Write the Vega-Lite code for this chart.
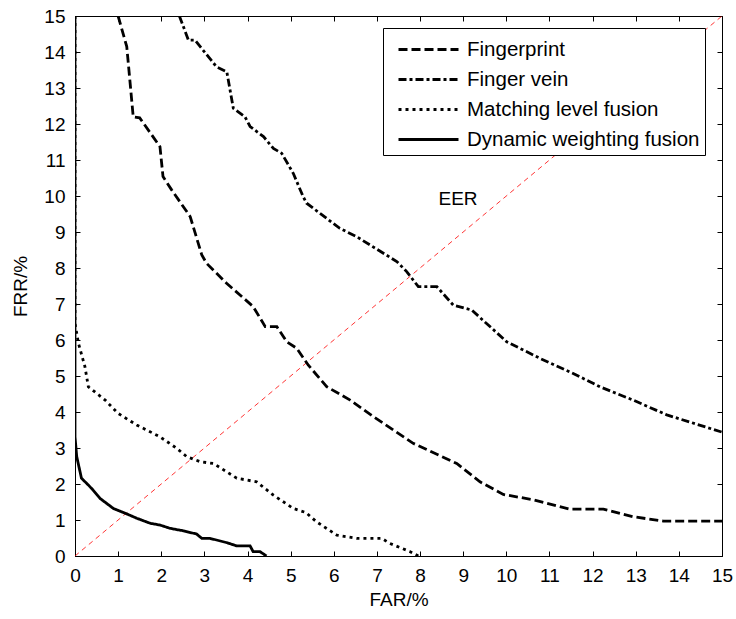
{
  "$schema": "https://vega.github.io/schema/vega-lite/v6.json",
  "width": 647,
  "height": 540,
  "autosize": {"type": "none"},
  "padding": {"left": 75, "top": 16, "right": 14, "bottom": 63},
  "background": "white",
  "config": {
    "font": "Liberation Sans",
    "view": {"stroke": "black", "strokeWidth": 1},
    "axis": {
      "grid": false,
      "domainColor": "black",
      "tickColor": "black",
      "labelColor": "black",
      "titleColor": "black",
      "labelFont": "Liberation Sans",
      "titleFont": "Liberation Sans",
      "labelFontSize": 19,
      "titleFontSize": 19,
      "titleFontWeight": "normal",
      "tickSize": -5,
      "labelFlush": false
    },
    "legend": {
      "labelFont": "Liberation Sans",
      "labelFontSize": 20.5,
      "labelColor": "black"
    }
  },
  "datasets": {
    "curves": [
      {"s": "Fingerprint", "i": 0, "far": 1.0, "frr": 15.0},
      {"s": "Fingerprint", "i": 1, "far": 1.2, "frr": 14.15},
      {"s": "Fingerprint", "i": 2, "far": 1.35, "frr": 12.2},
      {"s": "Fingerprint", "i": 3, "far": 1.5, "frr": 12.17},
      {"s": "Fingerprint", "i": 4, "far": 1.97, "frr": 11.37},
      {"s": "Fingerprint", "i": 5, "far": 2.04, "frr": 10.54},
      {"s": "Fingerprint", "i": 6, "far": 2.24, "frr": 10.17},
      {"s": "Fingerprint", "i": 7, "far": 2.67, "frr": 9.43},
      {"s": "Fingerprint", "i": 8, "far": 2.94, "frr": 8.36},
      {"s": "Fingerprint", "i": 9, "far": 3.05, "frr": 8.13},
      {"s": "Fingerprint", "i": 10, "far": 3.52, "frr": 7.57},
      {"s": "Fingerprint", "i": 11, "far": 4.13, "frr": 6.93},
      {"s": "Fingerprint", "i": 12, "far": 4.41, "frr": 6.37},
      {"s": "Fingerprint", "i": 13, "far": 4.68, "frr": 6.37},
      {"s": "Fingerprint", "i": 14, "far": 4.91, "frr": 5.95},
      {"s": "Fingerprint", "i": 15, "far": 5.14, "frr": 5.77},
      {"s": "Fingerprint", "i": 16, "far": 5.41, "frr": 5.3},
      {"s": "Fingerprint", "i": 17, "far": 5.84, "frr": 4.7},
      {"s": "Fingerprint", "i": 18, "far": 6.38, "frr": 4.33},
      {"s": "Fingerprint", "i": 19, "far": 6.92, "frr": 3.87},
      {"s": "Fingerprint", "i": 20, "far": 7.84, "frr": 3.13},
      {"s": "Fingerprint", "i": 21, "far": 8.85, "frr": 2.57},
      {"s": "Fingerprint", "i": 22, "far": 9.39, "frr": 2.06},
      {"s": "Fingerprint", "i": 23, "far": 9.93, "frr": 1.71},
      {"s": "Fingerprint", "i": 24, "far": 10.63, "frr": 1.56},
      {"s": "Fingerprint", "i": 25, "far": 11.48, "frr": 1.3},
      {"s": "Fingerprint", "i": 26, "far": 12.25, "frr": 1.3},
      {"s": "Fingerprint", "i": 27, "far": 12.94, "frr": 1.09},
      {"s": "Fingerprint", "i": 28, "far": 13.64, "frr": 0.97},
      {"s": "Fingerprint", "i": 29, "far": 15.0, "frr": 0.97},

      {"s": "Finger vein", "i": 0, "far": 2.42, "frr": 15.0},
      {"s": "Finger vein", "i": 1, "far": 2.63, "frr": 14.33},
      {"s": "Finger vein", "i": 2, "far": 2.78, "frr": 14.33},
      {"s": "Finger vein", "i": 3, "far": 3.28, "frr": 13.59},
      {"s": "Finger vein", "i": 4, "far": 3.52, "frr": 13.45},
      {"s": "Finger vein", "i": 5, "far": 3.67, "frr": 12.44},
      {"s": "Finger vein", "i": 6, "far": 3.94, "frr": 12.2},
      {"s": "Finger vein", "i": 7, "far": 4.06, "frr": 11.93},
      {"s": "Finger vein", "i": 8, "far": 4.37, "frr": 11.65},
      {"s": "Finger vein", "i": 9, "far": 4.6, "frr": 11.32},
      {"s": "Finger vein", "i": 10, "far": 4.79, "frr": 11.19},
      {"s": "Finger vein", "i": 11, "far": 5.06, "frr": 10.63},
      {"s": "Finger vein", "i": 12, "far": 5.29, "frr": 9.98},
      {"s": "Finger vein", "i": 13, "far": 5.37, "frr": 9.8},
      {"s": "Finger vein", "i": 14, "far": 6.14, "frr": 9.1},
      {"s": "Finger vein", "i": 15, "far": 6.53, "frr": 8.87},
      {"s": "Finger vein", "i": 16, "far": 7.46, "frr": 8.18},
      {"s": "Finger vein", "i": 17, "far": 7.69, "frr": 7.9},
      {"s": "Finger vein", "i": 18, "far": 7.96, "frr": 7.48},
      {"s": "Finger vein", "i": 19, "far": 8.39, "frr": 7.48},
      {"s": "Finger vein", "i": 20, "far": 8.77, "frr": 6.97},
      {"s": "Finger vein", "i": 21, "far": 9.2, "frr": 6.83},
      {"s": "Finger vein", "i": 22, "far": 10.01, "frr": 5.95},
      {"s": "Finger vein", "i": 23, "far": 10.78, "frr": 5.49},
      {"s": "Finger vein", "i": 24, "far": 11.55, "frr": 5.07},
      {"s": "Finger vein", "i": 25, "far": 12.17, "frr": 4.7},
      {"s": "Finger vein", "i": 26, "far": 12.94, "frr": 4.33},
      {"s": "Finger vein", "i": 27, "far": 13.72, "frr": 3.92},
      {"s": "Finger vein", "i": 28, "far": 15.0, "frr": 3.44},

      {"s": "Matching level fusion", "i": 0, "far": 0.0, "frr": 15.0},
      {"s": "Matching level fusion", "i": 1, "far": 0.0, "frr": 6.46},
      {"s": "Matching level fusion", "i": 2, "far": 0.08, "frr": 5.91},
      {"s": "Matching level fusion", "i": 3, "far": 0.23, "frr": 5.26},
      {"s": "Matching level fusion", "i": 4, "far": 0.31, "frr": 4.7},
      {"s": "Matching level fusion", "i": 5, "far": 0.7, "frr": 4.33},
      {"s": "Matching level fusion", "i": 6, "far": 1.0, "frr": 3.96},
      {"s": "Matching level fusion", "i": 7, "far": 1.43, "frr": 3.64},
      {"s": "Matching level fusion", "i": 8, "far": 1.97, "frr": 3.31},
      {"s": "Matching level fusion", "i": 9, "far": 2.36, "frr": 2.99},
      {"s": "Matching level fusion", "i": 10, "far": 2.59, "frr": 2.76},
      {"s": "Matching level fusion", "i": 11, "far": 2.9, "frr": 2.62},
      {"s": "Matching level fusion", "i": 12, "far": 3.21, "frr": 2.57},
      {"s": "Matching level fusion", "i": 13, "far": 3.75, "frr": 2.16},
      {"s": "Matching level fusion", "i": 14, "far": 4.21, "frr": 2.06},
      {"s": "Matching level fusion", "i": 15, "far": 4.6, "frr": 1.69},
      {"s": "Matching level fusion", "i": 16, "far": 5.06, "frr": 1.32},
      {"s": "Matching level fusion", "i": 17, "far": 5.35, "frr": 1.21},
      {"s": "Matching level fusion", "i": 18, "far": 5.6, "frr": 0.95},
      {"s": "Matching level fusion", "i": 19, "far": 6.07, "frr": 0.58},
      {"s": "Matching level fusion", "i": 20, "far": 6.53, "frr": 0.49},
      {"s": "Matching level fusion", "i": 21, "far": 7.11, "frr": 0.49},
      {"s": "Matching level fusion", "i": 22, "far": 7.3, "frr": 0.35},
      {"s": "Matching level fusion", "i": 23, "far": 7.77, "frr": 0.12},
      {"s": "Matching level fusion", "i": 24, "far": 7.96, "frr": 0.0},

      {"s": "Dynamic weighting fusion", "i": 0, "far": 0.0, "frr": 15.0},
      {"s": "Dynamic weighting fusion", "i": 1, "far": 0.0, "frr": 3.31},
      {"s": "Dynamic weighting fusion", "i": 2, "far": 0.04, "frr": 2.76},
      {"s": "Dynamic weighting fusion", "i": 3, "far": 0.15, "frr": 2.16},
      {"s": "Dynamic weighting fusion", "i": 4, "far": 0.31, "frr": 1.97},
      {"s": "Dynamic weighting fusion", "i": 5, "far": 0.42, "frr": 1.83},
      {"s": "Dynamic weighting fusion", "i": 6, "far": 0.58, "frr": 1.6},
      {"s": "Dynamic weighting fusion", "i": 7, "far": 0.89, "frr": 1.32},
      {"s": "Dynamic weighting fusion", "i": 8, "far": 1.2, "frr": 1.17},
      {"s": "Dynamic weighting fusion", "i": 9, "far": 1.43, "frr": 1.05},
      {"s": "Dynamic weighting fusion", "i": 10, "far": 1.74, "frr": 0.91},
      {"s": "Dynamic weighting fusion", "i": 11, "far": 1.97, "frr": 0.86},
      {"s": "Dynamic weighting fusion", "i": 12, "far": 2.2, "frr": 0.77},
      {"s": "Dynamic weighting fusion", "i": 13, "far": 2.51, "frr": 0.7},
      {"s": "Dynamic weighting fusion", "i": 14, "far": 2.82, "frr": 0.61},
      {"s": "Dynamic weighting fusion", "i": 15, "far": 2.94, "frr": 0.49},
      {"s": "Dynamic weighting fusion", "i": 16, "far": 3.13, "frr": 0.49},
      {"s": "Dynamic weighting fusion", "i": 17, "far": 3.52, "frr": 0.37},
      {"s": "Dynamic weighting fusion", "i": 18, "far": 3.75, "frr": 0.28},
      {"s": "Dynamic weighting fusion", "i": 19, "far": 4.06, "frr": 0.28},
      {"s": "Dynamic weighting fusion", "i": 20, "far": 4.13, "frr": 0.12},
      {"s": "Dynamic weighting fusion", "i": 21, "far": 4.29, "frr": 0.12},
      {"s": "Dynamic weighting fusion", "i": 22, "far": 4.44, "frr": 0.0}
    ],
    "eer": [
      {"far": 0, "frr": 0},
      {"far": 15, "frr": 15}
    ],
    "label": [
      {"far": 8.88, "frr": 9.92, "text": "EER"}
    ]
  },
  "resolve": {"axis": {"x": "independent", "y": "independent"}},
  "layer": [
    {
      "data": {"name": "eer"},
      "mark": {"type": "line", "color": "red", "strokeWidth": 0.8, "strokeDash": [5, 4], "clip": true},
      "encoding": {
        "x": {"field": "far", "type": "quantitative", "scale": {"domain": [0, 15], "nice": false}, "axis": {"orient": "top", "labels": false, "title": null, "values": [0,1,2,3,4,5,6,7,8,9,10,11,12,13,14,15], "domain": false}},
        "y": {"field": "frr", "type": "quantitative", "scale": {"domain": [0, 15], "nice": false}, "axis": {"orient": "right", "labels": false, "title": null, "values": [0,1,2,3,4,5,6,7,8,9,10,11,12,13,14,15], "domain": false}}
      }
    },
    {
      "data": {"name": "curves"},
      "mark": {"type": "line", "color": "black", "strokeWidth": 2.8, "clip": true},
      "encoding": {
        "x": {"field": "far", "type": "quantitative", "scale": {"domain": [0, 15], "nice": false}, "axis": {"orient": "bottom", "title": "FAR/%", "values": [0,1,2,3,4,5,6,7,8,9,10,11,12,13,14,15], "labelPadding": 15, "titlePadding": 5}},
        "y": {"field": "frr", "type": "quantitative", "scale": {"domain": [0, 15], "nice": false}, "axis": {"orient": "left", "title": "FRR/%", "values": [0,1,2,3,4,5,6,7,8,9,10,11,12,13,14,15], "labelPadding": 15, "titlePadding": 13}},
        "order": {"field": "i", "type": "quantitative"},
        "strokeDash": {
          "field": "s",
          "type": "nominal",
          "scale": {
            "domain": ["Fingerprint", "Finger vein", "Matching level fusion", "Dynamic weighting fusion"],
            "range": [[9, 4], [8, 3, 3, 3], [3, 4], [1, 0]]
          },
          "legend": {
            "title": null,
            "orient": "none",
            "legendX": 308,
            "legendY": 12,
            "symbolType": "M-0.4,0H3.6",
            "symbolSize": 900,
            "symbolStrokeWidth": 2.8,
            "symbolStrokeColor": "black",
            "strokeColor": "black",
            "fillColor": "white",
            "padding": 5,
            "rowPadding": 3,
            "labelOffset": 46,
            "labelLimit": 400
          }
        }
      }
    },
    {
      "data": {"name": "label"},
      "mark": {"type": "text", "fontSize": 19, "font": "Liberation Sans", "color": "black"},
      "encoding": {
        "x": {"field": "far", "type": "quantitative", "scale": {"domain": [0, 15], "nice": false}, "axis": null},
        "y": {"field": "frr", "type": "quantitative", "scale": {"domain": [0, 15], "nice": false}, "axis": null},
        "text": {"field": "text"}
      }
    }
  ]
}
